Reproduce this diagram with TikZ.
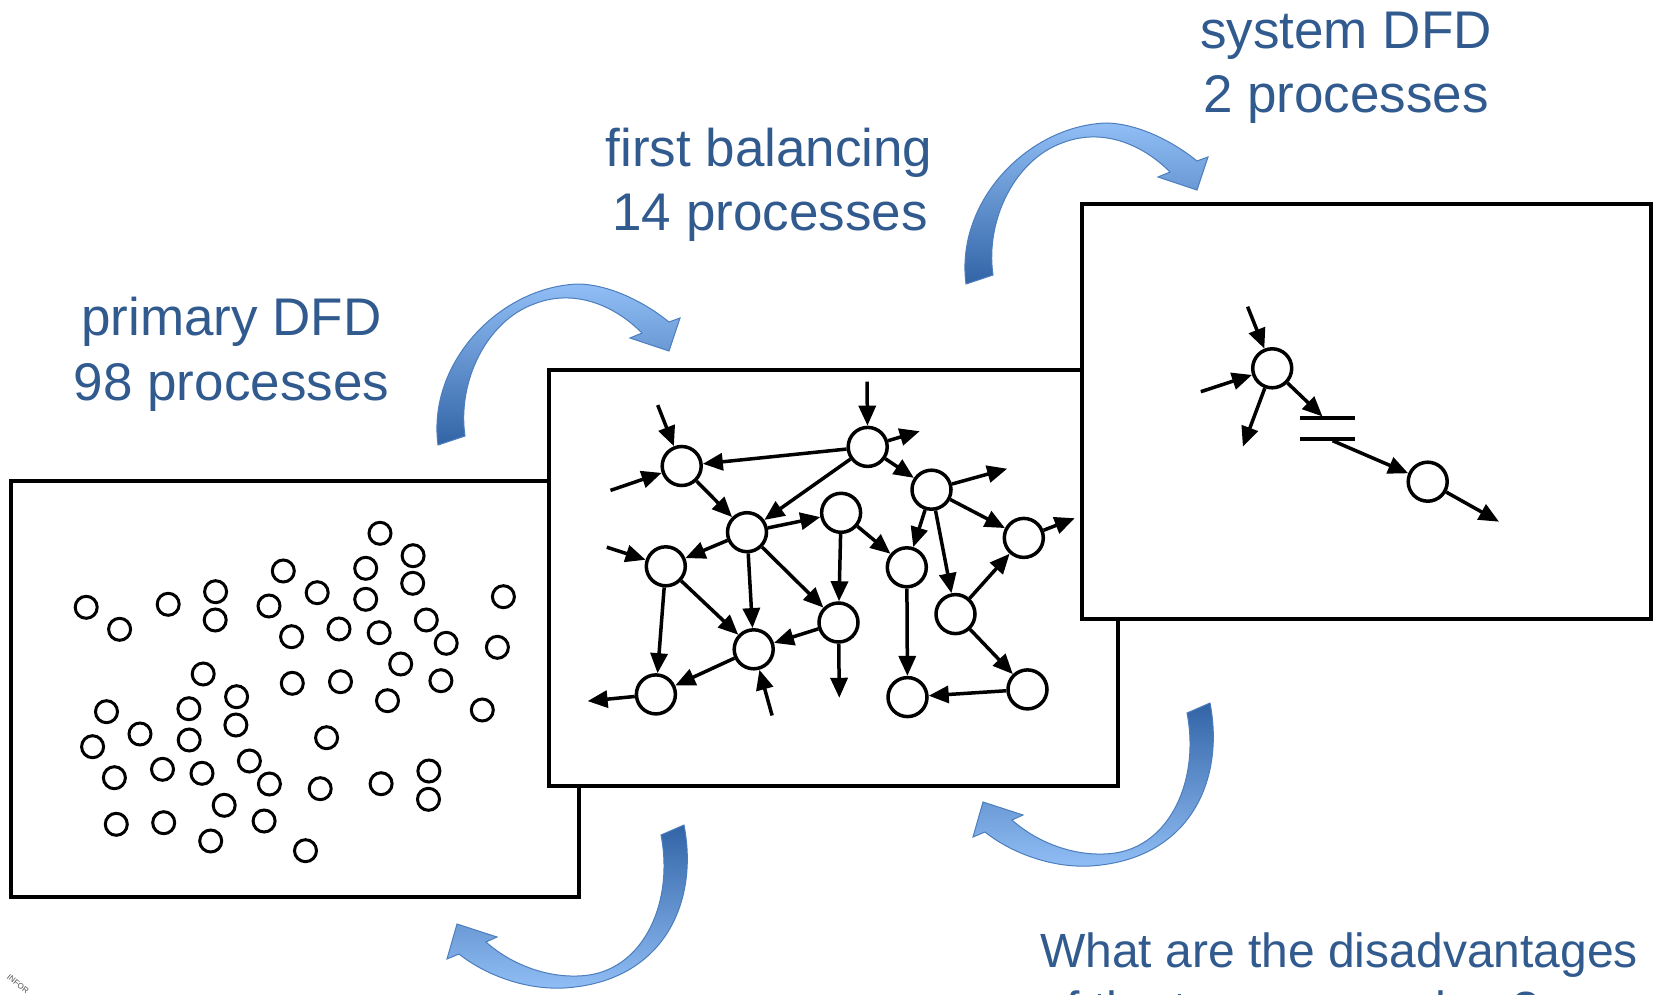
\documentclass[tikz,border=0pt]{standalone}
\usepackage{fontspec}
\setmainfont{Liberation Sans}
\usetikzlibrary{arrows.meta}
\definecolor{txtblue}{RGB}{49,90,142}
\definecolor{arrdark}{RGB}{50,100,166}
\definecolor{arrlight}{RGB}{145,190,245}
\definecolor{arrline}{RGB}{76,126,190}
\tikzset{
  box/.style={draw=black, line width=4pt, fill=white},
  pc/.style={circle, draw=black, line width=3pt, minimum size=22pt, inner sep=0pt},
  proc/.style={circle, draw=black, line width=3.5pt, minimum size=39pt, inner sep=0pt, fill=white},
  flow/.style={line width=3.5pt, -{Triangle[length=20pt,width=17pt]}},
  storeline/.style={line width=4pt},
  lbl/.style={text=txtblue, font=\fontsize{53}{64}\selectfont, anchor=base, inner sep=0pt},
  qlbl/.style={text=txtblue, font=\fontsize{48}{58}\selectfont, anchor=base west, inner sep=0pt},
  ribbonup/.style={draw=arrline, line width=1pt, top color=arrlight, bottom color=arrdark},
  ribbondown/.style={draw=arrline, line width=1pt, top color=arrdark, bottom color=arrlight},
}
\begin{document}
\begin{tikzpicture}[x=1pt,y=-1pt]
\clip (0,0) rectangle (1654,995);
\fill[white] (0,0) rectangle (1654,995);

% ---------- left box: primary DFD ----------
\draw[box] (10.5,481) rectangle (579,897);
\foreach \x/\y [count=\i] in {
 380.0/533.3, 413.1/555.7, 365.7/568.3, 283.3/571.0, 412.7/583.3,
 215.6/591.7, 317.2/592.7, 365.7/599.3, 86.2/607.3, 168.2/604.3,
 269.0/606.0, 503.4/596.7, 215.2/620.0, 119.6/629.3, 426.3/620.0,
 339.0/629.0, 379.2/632.7, 291.6/636.7, 446.2/643.3, 497.4/647.3,
 400.7/664.0, 203.2/674.0, 292.3/683.3, 340.5/681.7, 440.9/680.7,
 236.6/696.7, 387.5/700.7, 482.3/710.0, 106.5/711.7, 188.9/708.7,
 235.9/725.0, 140.0/734.0, 189.2/740.0, 326.6/737.7, 92.6/746.7,
 249.4/761.0, 162.5/769.3, 202.0/773.3, 114.4/777.7, 428.9/771.0,
 269.4/784.0, 320.2/788.7, 381.1/783.7, 428.5/799.3, 224.2/805.3,
 116.3/824.3, 163.7/822.7, 264.1/821.0, 210.7/841.0, 305.5/850.7}
 \node[pc] (p\i) at (\x,\y) {};

% ---------- middle box: first balancing ----------
\draw[box] (548.5,370) rectangle (1118,786);
\node[proc] (mA) at (681.7,466.0) {};
\node[proc] (mB) at (867.7,446.9) {};
\node[proc] (mC) at (931.5,489.7) {};
\node[proc] (mD) at (747.0,532.2) {};
\node[proc] (mE) at (841.1,512.8) {};
\node[proc] (mF) at (1023.8,537.9) {};
\node[proc] (mG) at (665.8,566.3) {};
\node[proc] (mH) at (906.8,567.3) {};
\node[proc] (mI) at (955.5,614.1) {};
\node[proc] (mJ) at (838.5,622.5) {};
\node[proc] (mK) at (753.7,649.3) {};
\node[proc] (mL) at (655.9,694.4) {};
\node[proc] (mM) at (907.5,697.1) {};
\node[proc] (mN) at (1027.5,689.4) {};
\coordinate (inA1) at (657.7,405.1);
\coordinate (inA2) at (610.5,490.4);
\coordinate (inB) at (867.0,381.7);
\coordinate (outB) at (919.7,431.2);
\coordinate (outC) at (1007.2,468.7);
\coordinate (inG) at (606.8,547.2);
\coordinate (outF) at (1074.7,518.2);
\coordinate (outJ) at (839.3,697.8);
\coordinate (inK) at (772.1,715.5);
\coordinate (outL) at (587.6,701.1);
\draw[flow] (inA1) -- (mA);
\draw[flow] (inA2) -- (mA);
\draw[flow] (mB) -- (mA);
\draw[flow] (inB) -- (mB);
\draw[flow] (mB) -- (outB);
\draw[flow] (mB) -- (mC);
\draw[flow] (mB) -- (mD);
\draw[flow] (mA) -- (mD);
\draw[flow] (mC) -- (outC);
\draw[flow] (mC) -- (mF);
\draw[flow] (mC) -- (mH);
\draw[flow] (mC) -- (mI);
\draw[flow] (mD) -- (mE);
\draw[flow] (mD) -- (mG);
\draw[flow] (mD) -- (mK);
\draw[flow] (mD) -- (mJ);
\draw[flow] (inG) -- (mG);
\draw[flow] (mE) -- (mH);
\draw[flow] (mE) -- (mJ);
\draw[flow] (mF) -- (outF);
\draw[flow] (mI) -- (mF);
\draw[flow] (mI) -- (mN);
\draw[flow] (mG) -- (mL);
\draw[flow] (mG) -- (mK);
\draw[flow] (mJ) -- (mK);
\draw[flow] (mJ) -- (outJ);
\draw[flow] (inK) -- (mK);
\draw[flow] (mK) -- (mL);
\draw[flow] (mL) -- (outL);
\draw[flow] (mH) -- (mM);
\draw[flow] (mN) -- (mM);

% ---------- right box: system DFD ----------
\draw[box] (1082,203.6) rectangle (1651,619);
\node[proc] (sP1) at (1272.2,368.3) {};
\node[proc] (sP2) at (1427.7,481.7) {};
\coordinate (inP1a) at (1247.6,306.7);
\coordinate (inP1b) at (1200.8,391.7);
\coordinate (outP1) at (1242.9,446.7);
\coordinate (stIn) at (1322.5,416.5);
\coordinate (st1) at (1299.6,418.3);
\coordinate (st2) at (1354.5,418.3);
\coordinate (st3) at (1299.6,439.3);
\coordinate (st4) at (1354.5,439.3);
\coordinate (stOut) at (1332.6,440.7);
\coordinate (outP2) at (1499.0,521.7);
\draw[storeline] (st1) -- (st2);
\draw[storeline] (st3) -- (st4);
\draw[flow] (inP1a) -- (sP1);
\draw[flow] (inP1b) -- (sP1);
\draw[flow] (sP1) -- (outP1);
\draw[flow] (sP1) -- (stIn);
\draw[flow] (stOut) -- (sP2);
\draw[flow] (sP2) -- (outP2);

% ---------- curved blue arrows ----------
\newcommand{\ribbonTop}{%
  (966,284) .. controls (955,200) and (1030,125) .. (1107,123)
  .. controls (1140,124) and (1175,143) .. (1197,161)
  -- (1208,157) -- (1197,190) -- (1158,177) -- (1170,172)
  .. controls (1140,142) and (1100,128) .. (1062,143)
  .. controls (1015,160) and (985,220) .. (993,275) -- cycle}
\newcommand{\ribbonBot}{%
  (1210,703) .. controls (1225,780) and (1190,860) .. (1090,866)
  .. controls (1050,868) and (1010,852) .. (985,832)
  -- (973,837) -- (983,802) -- (1023,815) -- (1012,820)
  .. controls (1040,845) and (1080,858) .. (1115,853)
  .. controls (1170,845) and (1200,780) .. (1187,713) -- cycle}
\path[ribbonup] \ribbonTop;
\begin{scope}[shift={(-528,161)}]
\path[ribbonup] \ribbonTop;
\end{scope}
\path[ribbondown] \ribbonBot;
\begin{scope}[shift={(-526,122)}]
\path[ribbondown] \ribbonBot;
\end{scope}

% ---------- labels ----------
\node[lbl] (t1a) at (231.5,335) {primary DFD};
\node[lbl] (t1b) at (231.5,400) {98 processes};
\node[lbl] (t2a) at (769,167) {first balancing};
\node[lbl] (t2b) at (770,230) {14 processes};
\node[lbl] (t3a) at (1346,49) {system DFD};
\node[lbl] (t3b) at (1346,113) {2 processes};
\node[qlbl] (q1) at (1040,967) {What are the disadvantages};
\node[qlbl] (q2) at (1040,1025) {of the two approaches?};
\node[rotate=-38, text=black!70, font=\fontsize{8}{9}\selectfont\rmfamily, inner sep=0pt] (logo) at (18,984) {INFOR};
\end{tikzpicture}
\end{document}
